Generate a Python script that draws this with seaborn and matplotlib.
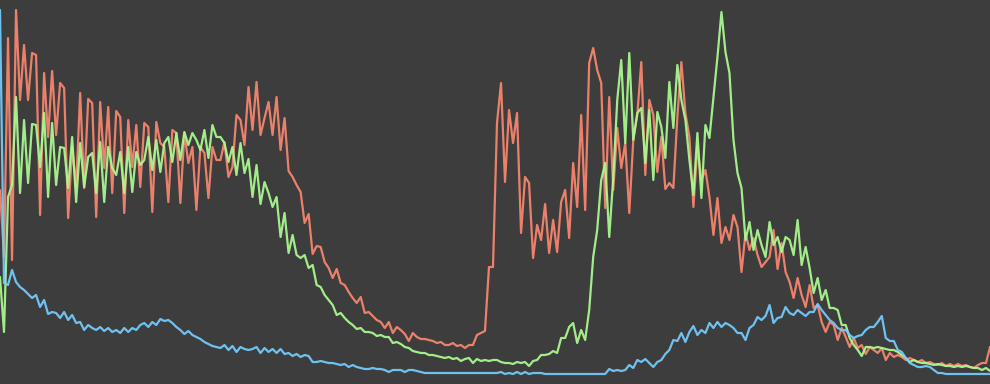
import numpy as np
import pandas as pd
import matplotlib
matplotlib.use("Agg")
import matplotlib.pyplot as plt
import seaborn as sns

red = [194,127,346,124,374,284,339,284,331,329,169,311,247,313,249,301,296,166,237,197,291,196,285,281,167,282,216,277,191,273,267,
       171,264,217,259,197,261,257,172,262,241,237,182,254,251,181,251,221,237,174,237,231,186,237,224,224,242,207,217,269,264,239,
       297,254,302,249,266,282,249,287,234,266,213,207,199,192,161,170,130,138,137,122,116,106,115,101,99,92,86,81,87,71,72,
       68,64,62,56,62,51,57,54,50,43,51,47,45,45,44,43,41,42,39,39,41,38,39,36,39,39,49,51,53,117,117,
       261,301,202,274,241,271,151,207,201,126,159,144,180,131,164,132,182,194,146,221,177,269,174,321,336,314,301,176,287,194,256,
       216,241,171,244,269,322,209,284,269,212,247,195,201,196,267,322,271,247,177,237,204,214,187,149,186,141,157,144,169,157,112,
       151,134,146,129,117,122,127,154,115,141,112,102,86,106,89,77,99,76,79,62,52,62,59,44,56,47,37,46,36,39,30,
       37,34,31,36,24,31,27,29,27,24,26,24,22,24,21,22,20,19,21,18,20,18,20,18,19,17,16,19,21,21,37]

green = [107,52,187,199,287,191,264,201,260,259,217,271,187,261,199,237,236,196,247,182,241,197,227,231,191,242,182,237,216,209,232,
         191,237,192,232,219,224,247,214,244,212,241,247,222,251,224,252,239,251,244,234,254,226,259,247,247,241,222,237,209,241,211,
         225,187,219,180,202,191,177,187,147,171,131,149,129,126,129,116,119,99,97,89,84,79,69,71,66,62,59,55,56,52,52,
         51,48,49,47,47,41,42,40,37,36,33,32,31,31,29,29,28,27,26,27,25,26,23,25,26,21,25,23,24,23,24,
         24,22,21,21,20,22,21,22,18,23,24,29,29,30,33,31,46,46,57,61,41,54,44,74,127,154,204,221,147,206,284,
         324,241,331,244,271,276,221,274,204,272,257,226,302,256,319,284,264,224,189,251,186,259,246,287,327,372,332,311,244,211,196,
         144,162,134,154,139,127,162,139,147,132,147,144,129,164,119,137,116,91,106,84,94,76,76,74,59,59,46,39,34,28,37,
         37,36,37,36,35,34,34,32,29,26,22,24,22,21,21,20,19,20,19,18,18,17,18,17,18,17,16,16,14,16,13]

blue = [374,101,99,114,102,97,94,90,86,89,77,84,70,72,71,66,72,64,69,61,62,54,59,56,54,57,53,56,52,54,51,
        56,52,56,54,59,61,57,62,59,65,63,64,61,57,54,50,53,49,47,45,42,40,38,37,36,39,34,38,32,37,35,
        34,35,37,31,36,32,35,31,35,30,31,28,30,27,29,28,22,22,23,22,21,21,20,19,20,17,19,17,16,15,15,
        16,15,15,14,12,14,14,14,12,14,14,13,12,11,11,11,11,11,11,11,11,11,11,11,11,11,11,11,11,11,11,
        11,12,10,11,10,12,10,12,10,11,11,11,10,10,10,10,10,10,10,10,10,10,10,10,10,10,10,10,15,13,14,
        13,14,19,16,24,22,25,21,17,22,24,30,34,44,43,51,42,52,58,49,54,51,61,56,62,57,61,59,56,51,51,
        44,56,59,67,64,68,79,61,66,67,77,71,69,74,71,68,72,72,80,74,69,64,61,56,54,54,49,46,48,49,54,
        57,57,62,68,46,43,43,34,32,26,21,19,17,17,18,17,14,11,11,10,10,10,10,10,10,10,10,10,10,10,10]

series_names = ["red", "green", "blue"]
colors = {"red": "#fb8670", "green": "#abfc90", "blue": "#74cdff"}

n = len(red)
idx = np.arange(n)
df = pd.concat([
    pd.DataFrame({"i": idx, "v": red, "s": "red"}),
    pd.DataFrame({"i": idx, "v": green, "s": "green"}),
    pd.DataFrame({"i": idx, "v": blue, "s": "blue"}),
])

bg = "#3d3d3d"
sns.set_style("dark", {"axes.facecolor": bg, "figure.facecolor": bg})
fig = plt.figure(figsize=(9.9, 3.84), dpi=100)
ax = fig.add_axes([0, 0, 1, 1])
ax.set_facecolor(bg)
sns.lineplot(data=df, x="i", y="v", hue="s", hue_order=series_names,
             palette=colors, linewidth=1.6, alpha=0.92, legend=False, ax=ax,
             estimator=None, sort=False)
ax.set_xlim(0, n - 1)
ax.set_ylim(0, 384)
ax.axis("off")
fig.savefig("out.png", dpi=100, facecolor=bg)
